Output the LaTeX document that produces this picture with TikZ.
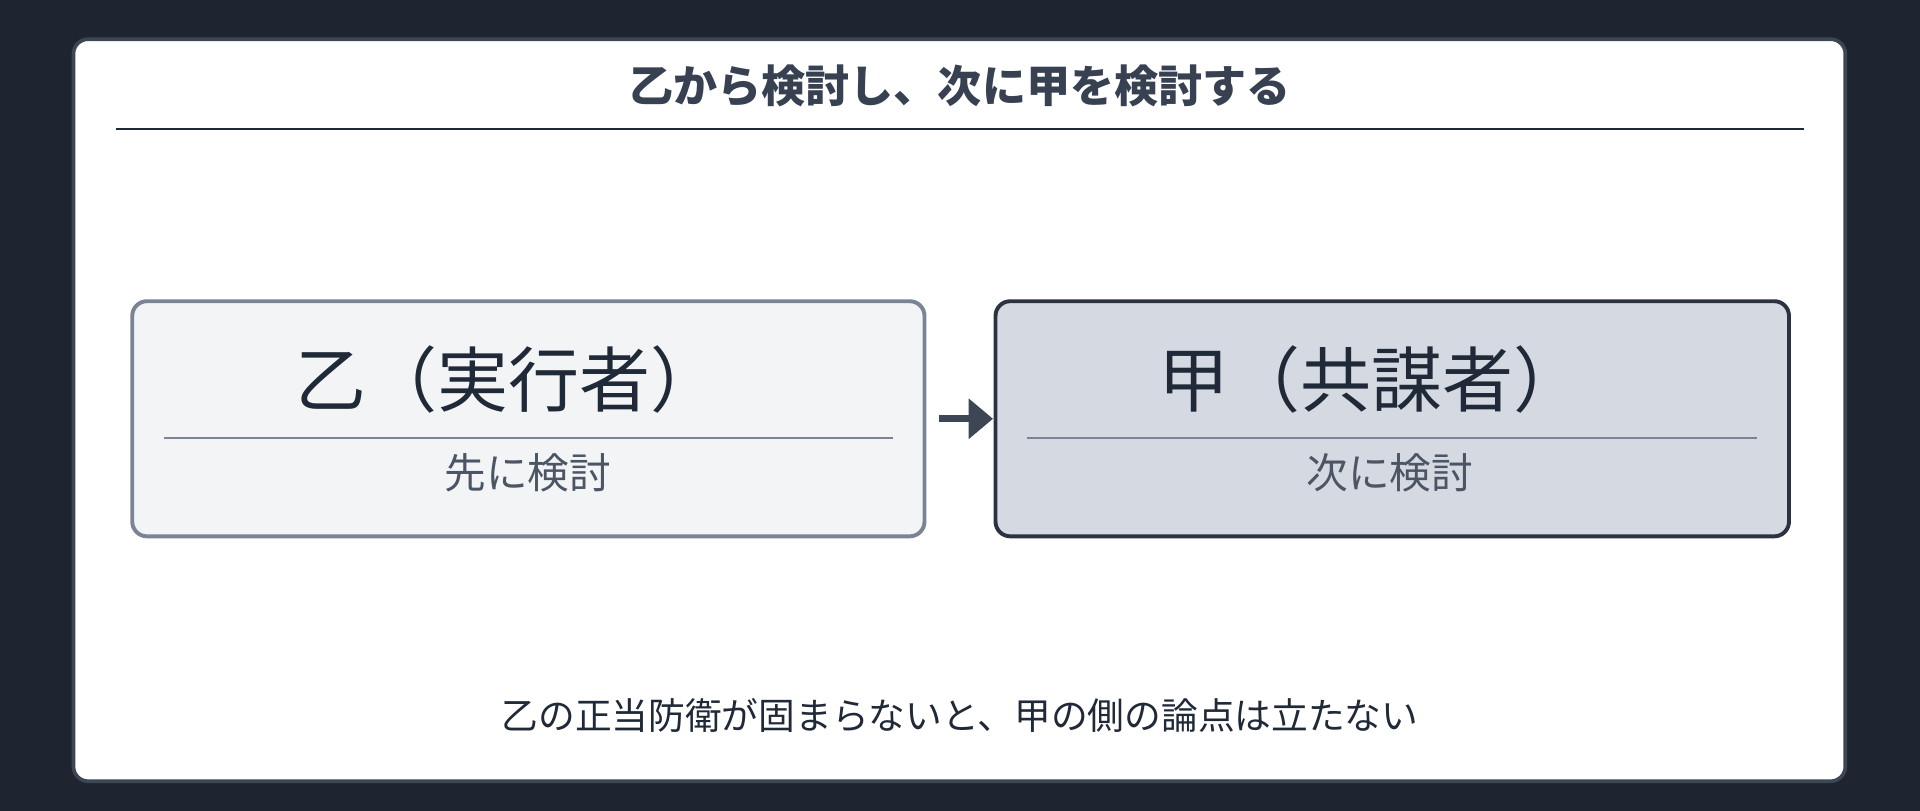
\documentclass[tikz,border=0pt]{standalone}
\usepackage{fontspec}
\setmainfont{Noto Sans CJK JP}
\newfontfamily\jpb{Noto Sans CJK JP}[BoldFont={* Bold}]
\usetikzlibrary{arrows.meta}
\definecolor{bgdark}{HTML}{1E2530}
\definecolor{cardborder}{HTML}{3D4654}
\definecolor{titlec}{HTML}{374151}
\definecolor{leftfill}{HTML}{F3F4F6}
\definecolor{leftbord}{HTML}{7B8494}
\definecolor{rightfill}{HTML}{D5DAE2}
\definecolor{rightbord}{HTML}{2B3240}
\definecolor{subc}{HTML}{4B5563}
\definecolor{mainc}{HTML}{1F2937}
\tikzset{
  box/.style={rounded corners=6pt, line width=1.6pt},
  big/.style={font=\fontsize{29}{34}\selectfont, text=mainc},
  sub/.style={font=\fontsize{17}{20}\selectfont, text=subc},
}
\begin{document}
\begin{tikzpicture}[x=0.5pt,y=-0.5pt]
\fill[bgdark] (0,0) rectangle (1568,662);
\useasboundingbox (0,0) rectangle (1568,662);
\draw[fill=white, draw=cardborder, line width=1.5pt, rounded corners=6pt] (60,32) rectangle (1507,638);
\node[font=\bfseries\fontsize{18}{22}\selectfont, text=titlec] (title) at (784,70) {乙から検討し、次に甲を検討する};
\draw[mainc, line width=0.8pt] (95,105) -- (1473,105);
\draw[box, fill=leftfill, draw=leftbord] (108,246) rectangle (755,438);
\node (left) at (431,342) {};
\node[big] (lt) at (415,310) {乙（実行者）};
\draw[leftbord, line width=0.8pt] (134,358) -- (729,358);
\node[sub] (ls) at (431,386) {先に検討};
\draw[box, fill=rightfill, draw=rightbord] (813,246) rectangle (1461,438);
\node (right) at (1137,342) {};
\node[big] (rt) at (1120,310) {甲（共謀者）};
\draw[leftbord, line width=0.8pt] (839,358) -- (1435,358);
\node[sub] (rs) at (1135,386) {次に検討};
\coordinate (a1) at (767,342);
\coordinate (a2) at (811,342);
\draw[cardborder, line width=3pt, -{Triangle[length=10pt,width=16pt]}] (a1) -- (a2);
\node[font=\fontsize{15}{18}\selectfont, text=mainc] (foot) at (784,584) {乙の正当防衛が固まらないと、甲の側の論点は立たない};
\end{tikzpicture}
\end{document}
